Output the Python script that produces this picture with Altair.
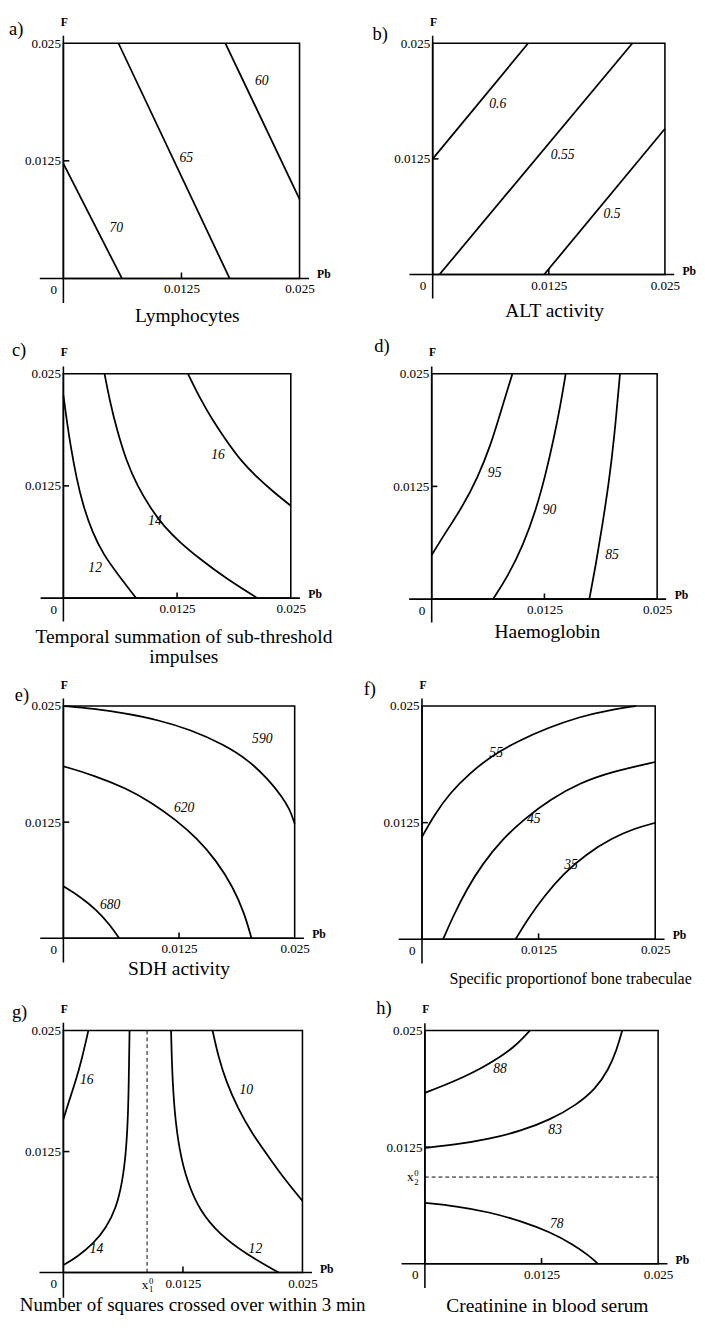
import altair as alt
import pandas as pd

FONT = "Liberation Serif"
DOM = [0, 0.025]

# ---------------- a) Lymphocytes ----------------
a_70_pb = [0.0, 0.0062]
a_70_f = [0.0122, 0.0]
a_65_pb = [0.00583, 0.0176]
a_65_f = [0.025, 0.0]
a_60_pb = [0.01715, 0.025]
a_60_f = [0.025, 0.00843]
a_lab_text = ["70", "65", "60"]
a_lab_pb = [0.0056, 0.0130, 0.0210]
a_lab_f = [0.0053, 0.0128, 0.0210]

# ---------------- b) ALT activity ----------------
b_06_pb = [0.0, 0.01028]
b_06_f = [0.0125, 0.025]
b_055_pb = [0.00073, 0.0215]
b_055_f = [0.0, 0.025]
b_05_pb = [0.012, 0.025]
b_05_f = [0.0, 0.01576]
b_lab_text = ["0.6", "0.55", "0.5"]
b_lab_pb = [0.0070, 0.0140, 0.0193]
b_lab_f = [0.01845, 0.0129, 0.0065]

# ---------------- c) Temporal summation ----------------
c_12_pb = [0.0, 0.000356, 0.000782, 0.00142, 0.0022, 0.0032, 0.00445, 0.00587, 0.008]
c_12_f = [0.02259, 0.01989, 0.01701, 0.01342, 0.01018, 0.0073, 0.00478, 0.00281, 0.0]
c_14_pb = [0.00452, 0.00516, 0.00587, 0.00693, 0.00818, 0.0096, 0.01102, 0.0128, 0.01494, 0.01778, 0.02134]
c_14_f = [0.025, 0.02169, 0.01881, 0.01522, 0.01241, 0.01, 0.00802, 0.00622, 0.00442, 0.00227, 0.0]
c_16_pb = [0.01369, 0.01494, 0.01636, 0.01778, 0.01956, 0.02134, 0.02312, 0.025]
c_16_f = [0.025, 0.02241, 0.01989, 0.01773, 0.01522, 0.01342, 0.0118, 0.01029]
c_lab_text = ["12", "14", "16"]
c_lab_pb = [0.00349, 0.01006, 0.0170]
c_lab_f = [0.00335, 0.00856, 0.01594]

# ---------------- d) Haemoglobin ----------------
d_95_pb = [0.0, 0.00154, 0.00333, 0.00512, 0.00655, 0.00763, 0.00895]
d_95_f = [0.00489, 0.0074, 0.01009, 0.01351, 0.0171, 0.02069, 0.025]
d_90_pb = [0.0068, 0.00835, 0.01014, 0.01157, 0.01264, 0.01354, 0.01426, 0.01486]
d_90_f = [0.0, 0.00237, 0.00596, 0.00991, 0.01386, 0.01782, 0.02141, 0.025]
d_85_pb = [0.01748, 0.0182, 0.01891, 0.01963, 0.02024, 0.02088]
d_85_f = [0.0, 0.00381, 0.00812, 0.01279, 0.01782, 0.025]
d_lab_text = ["95", "90", "85"]
d_lab_pb = [0.00698, 0.01307, 0.01999]
d_lab_f = [0.01394, 0.00991, 0.00488]

# ---------------- e) SDH activity ----------------
e_590_pb = [0.0, 0.00323, 0.00674, 0.01025, 0.01376, 0.01728, 0.02008, 0.02219, 0.0236, 0.02447, 0.025]
e_590_f = [0.025, 0.02472, 0.0242, 0.0235, 0.02245, 0.02088, 0.01913, 0.01704, 0.01529, 0.0139, 0.01233]
e_620_pb = [0.0, 0.00323, 0.00674, 0.00955, 0.01201, 0.01447, 0.01657, 0.01833, 0.01956, 0.02033]
e_620_f = [0.01851, 0.01756, 0.01617, 0.0146, 0.01285, 0.01075, 0.00831, 0.00552, 0.00272, 0.0]
e_680_pb = [0.0, 0.00183, 0.00358, 0.00499, 0.00604]
e_680_f = [0.00559, 0.00447, 0.00307, 0.0015, 0.0]
e_lab_text = ["590", "620", "680"]
e_lab_pb = [0.0215, 0.01306, 0.00506]
e_lab_f = [0.02147, 0.0140, 0.0036]

# ---------------- f) Bone trabeculae ----------------
f_55_pb = [0.0, 0.00128, 0.00302, 0.0051, 0.00753, 0.01031, 0.01344, 0.01691, 0.02003, 0.02292]
f_55_f = [0.01096, 0.01328, 0.01571, 0.01779, 0.0197, 0.02126, 0.02264, 0.02386, 0.02455, 0.025]
f_45_pb = [0.00226, 0.00337, 0.00476, 0.00649, 0.00858, 0.01101, 0.01378, 0.01691, 0.02038, 0.025]
f_45_f = [0.0, 0.00253, 0.00531, 0.00808, 0.01068, 0.01293, 0.01501, 0.01675, 0.01796, 0.019]
f_35_pb = [0.01003, 0.01135, 0.01309, 0.01517, 0.0176, 0.02038, 0.02281, 0.025]
f_35_f = [0.0, 0.00218, 0.00461, 0.00704, 0.00912, 0.01085, 0.01189, 0.01248]
f_lab_text = ["55", "45", "35"]
f_lab_pb = [0.00795, 0.01198, 0.01597]
f_lab_f = [0.01994, 0.01293, 0.0079]

# ---------------- g) Squares crossed ----------------
g_16_pb = [0.0, 0.00058, 0.00126, 0.00193, 0.00261]
g_16_f = [0.01585, 0.01769, 0.0197, 0.02205, 0.025]
g_14_pb = [0.0, 0.00142, 0.00312, 0.00448, 0.0055, 0.00617, 0.00658, 0.00678, 0.00685, 0.00692]
g_14_f = [0.00077, 0.00161, 0.00295, 0.00462, 0.00664, 0.00932, 0.01267, 0.01669, 0.02071, 0.025]
g_12_pb = [0.01126, 0.01136, 0.0116, 0.01211, 0.01296, 0.01431, 0.01635, 0.01906, 0.02252]
g_12_f = [0.025, 0.02105, 0.01669, 0.01267, 0.00932, 0.0063, 0.00395, 0.00194, 0.0]
g_10_pb = [0.0156, 0.01618, 0.01703, 0.01822, 0.01974, 0.02144, 0.02313, 0.025]
g_10_f = [0.025, 0.02239, 0.0197, 0.01702, 0.01434, 0.012, 0.00965, 0.00741]
g_lab_text = ["16", "14", "12", "10"]
g_lab_pb = [0.00244, 0.00346, 0.02008, 0.01913]
g_lab_f = [0.01987, 0.00245, 0.00245, 0.01887]
g_x10 = 0.00875

# ---------------- h) Creatinine ----------------
h_88_pb = [0.0, 0.00198, 0.00406, 0.00615, 0.00788, 0.00962, 0.01125]
h_88_f = [0.01833, 0.0191, 0.01997, 0.02101, 0.02205, 0.02326, 0.025]
h_83_pb = [0.0, 0.00337, 0.00684, 0.01031, 0.01344, 0.01622, 0.0183, 0.01969, 0.02056, 0.02115]
h_83_f = [0.01243, 0.01278, 0.01337, 0.01424, 0.01545, 0.01701, 0.01875, 0.02083, 0.02292, 0.025]
h_78_pb = [0.0, 0.00337, 0.00684, 0.01031, 0.01344, 0.01587, 0.0176, 0.01854]
h_78_f = [0.00653, 0.00618, 0.00556, 0.00458, 0.0034, 0.00208, 0.00087, 0.0]
h_lab_text = ["88", "83", "78"]
h_lab_pb = [0.00806, 0.01396, 0.01413]
h_lab_f = [0.0209, 0.0143, 0.00424]
h_x20 = 0.0093

TICKS = [0.0125, 0.025]


def X(field):
    return alt.X(field, type="quantitative",
                 scale=alt.Scale(domain=DOM, nice=False, zero=False),
                 axis=alt.Axis(values=TICKS, format=".4~f", domain=False, ticks=False, tickSize=0,
                               grid=False, labelFont=FONT, labelFontSize=13.5, labelColor="black",
                               labelPadding=4, labelFlush=False, labelOverlap=False, title=None))


def Y(field):
    return alt.Y(field, type="quantitative",
                 scale=alt.Scale(domain=DOM, nice=False, zero=False),
                 axis=alt.Axis(values=TICKS, format=".4~f", domain=False, ticks=False, tickSize=0,
                               grid=False, labelFont=FONT, labelFontSize=13.5, labelColor="black",
                               labelPadding=3, labelFlush=False, labelOverlap=False, title=None))


def note(pb, f, text, **kw):
    d = pd.DataFrame({"pb": [pb], "f": [f], "t": [text]})
    return alt.Chart(d).mark_text(font=FONT, color="black", **kw).encode(
        x=X("pb"), y=Y("f"), text="t:N")


def panel(letter, title, curves, lab_text, lab_pb, lab_f, w, h, lay, extra=()):
    rows = []
    for name, pbs, fs in curves:
        for i, (p, q) in enumerate(zip(pbs, fs)):
            rows.append({"curve": name, "i": i, "pb": p, "f": q})
    lines = alt.Chart(pd.DataFrame(rows)).mark_line(
        color="black", strokeWidth=1.8, interpolate="basis").encode(
        x=X("pb"), y=Y("f"), detail="curve:N", order="i:Q")
    labs = alt.Chart(pd.DataFrame({"pb": lab_pb, "f": lab_f, "t": lab_text})).mark_text(
        font=FONT, fontStyle="italic", fontSize=14, color="black").encode(
        x=X("pb"), y=Y("f"), text="t:N")
    ax = pd.DataFrame({
        "pb": [-0.0025, 0.0, 0.0125, 0.0],
        "pb2": [0.026, 0.0, 0.0125, 0.000625],
        "f": [0.0, -0.0026, 0.0, 0.0125],
        "f2": [0.0, 0.0258, 0.000625, 0.0125],
    })
    rules = alt.Chart(ax).mark_rule(color="black", strokeWidth=1.6).encode(
        x=X("pb"), x2="pb2", y=Y("f"), y2="f2")
    layers = [rules, lines, labs,
              note(0.0, 0.025, "F", dx=1, dy=-18, fontSize=12, fontWeight="bold",
                   align="center", baseline="alphabetic"),
              note(0.025, 0.0, "Pb", dx=18, dy=-4, fontSize=12, fontWeight="bold",
                   align="left", baseline="middle"),
              note(0.0, 0.0, "0", dx=-10, dy=12, fontSize=13.5, align="center",
                   baseline="middle"),
              note(0.0, 0.025, letter, dx=lay["ldx"], dy=lay["ldy"], fontSize=19,
                   align="left", baseline="middle"),
              note(0.0125, 0.0, title, dx=lay["tdx"], dy=lay["tdy"], fontSize=lay["tfs"],
                   align="center", baseline="alphabetic", lineBreak="\n", lineHeight=21)]
    layers += list(extra)
    return alt.layer(*layers).properties(width=w, height=h)


pa = panel("a)", "Lymphocytes",
           [("70", a_70_pb, a_70_f), ("65", a_65_pb, a_65_f), ("60", a_60_pb, a_60_f)],
           a_lab_text, a_lab_pb, a_lab_f, 243, 242,
           {"ldx": -56, "ldy": -15, "tdx": 6, "tdy": 45, "tfs": 20})
pb_ = panel("b)", "ALT activity",
            [("0.6", b_06_pb, b_06_f), ("0.55", b_055_pb, b_055_f), ("0.5", b_05_pb, b_05_f)],
            b_lab_text, b_lab_pb, b_lab_f, 239, 238,
            {"ldx": -62, "ldy": -9, "tdx": 6, "tdy": 44, "tfs": 20})
pc = panel("c)", "Temporal summation of sub-threshold\nimpulses",
           [("12", c_12_pb, c_12_f), ("14", c_14_pb, c_14_f), ("16", c_16_pb, c_16_f)],
           c_lab_text, c_lab_pb, c_lab_f, 234, 231,
           {"ldx": -53, "ldy": -24, "tdx": 7, "tdy": 46, "tfs": 20})
pd_ = panel("d)", "Haemoglobin",
            [("95", d_95_pb, d_95_f), ("90", d_90_pb, d_90_f), ("85", d_85_pb, d_85_f)],
            d_lab_text, d_lab_pb, d_lab_f, 232, 232,
            {"ldx": -59, "ldy": -28, "tdx": 3, "tdy": 40, "tfs": 20})
pe = panel("e)", "SDH activity",
           [("590", e_590_pb, e_590_f), ("620", e_620_pb, e_620_f), ("680", e_680_pb, e_680_f)],
           e_lab_text, e_lab_pb, e_lab_f, 238, 239,
           {"ldx": -50, "ldy": -11, "tdx": 0, "tdy": 38, "tfs": 20})
pf = panel("f)", "Specific proportionof bone trabeculae",
           [("55", f_55_pb, f_55_f), ("45", f_45_pb, f_45_f), ("35", f_35_pb, f_35_f)],
           f_lab_text, f_lab_pb, f_lab_f, 240, 240,
           {"ldx": -60, "ldy": -17, "tdx": 33, "tdy": 46, "tfs": 16.5})

g_extra = [
    alt.Chart(pd.DataFrame({"pb": [g_x10], "f": [0.0], "f2": [0.025]})).mark_rule(
        color="black", strokeWidth=1, strokeDash=[4, 3]).encode(x=X("pb"), y=Y("f"), y2="f2"),
    note(g_x10, 0.0, "x", dx=-2, dy=13, fontSize=13.5, align="center", baseline="middle"),
    note(g_x10, 0.0, "0", dx=2, dy=9, fontSize=9, align="left", baseline="middle"),
    note(g_x10, 0.0, "1", dx=2, dy=17, fontSize=9, align="left", baseline="middle"),
]
pg = panel("g)", "Number of squares crossed over within 3  min",
           [("16", g_16_pb, g_16_f), ("14", g_14_pb, g_14_f), ("12", g_12_pb, g_12_f),
            ("10", g_10_pb, g_10_f)],
           g_lab_text, g_lab_pb, g_lab_f, 246, 249,
           {"ldx": -53, "ldy": -19, "tdx": 10, "tdy": 40, "tfs": 19.5}, g_extra)

h_extra = [
    alt.Chart(pd.DataFrame({"pb": [0.0], "pb2": [0.025], "f": [h_x20]})).mark_rule(
        color="black", strokeWidth=1, strokeDash=[4, 3]).encode(x=X("pb"), x2="pb2", y=Y("f")),
    note(0.0, h_x20, "x", dx=-15, dy=0, fontSize=13.5, align="center", baseline="middle"),
    note(0.0, h_x20, "0", dx=-11, dy=-4, fontSize=9, align="left", baseline="middle"),
    note(0.0, h_x20, "2", dx=-11, dy=5, fontSize=9, align="left", baseline="middle"),
]
ph = panel("h)", "Creatinine in blood serum",
           [("88", h_88_pb, h_88_f), ("83", h_83_pb, h_83_f), ("78", h_78_pb, h_78_f)],
           h_lab_text, h_lab_pb, h_lab_f, 240, 240,
           {"ldx": -50, "ldy": -23, "tdx": 6, "tdy": 50, "tfs": 20}, h_extra)

row1 = alt.hconcat(pa, pb_, spacing=137, bounds="flush")
row2 = alt.hconcat(pc, pd_, spacing=145, bounds="flush")
row3 = alt.hconcat(pe, pf, spacing=131, bounds="flush")
row4 = alt.hconcat(pg, ph, spacing=126, bounds="flush")

chart = alt.vconcat(row1, row2, row3, row4, spacing=10, bounds="full").properties(
    padding={"left": 0, "top": -12, "right": 0, "bottom": 0}
).configure_view(stroke="black", strokeWidth=1.6)

chart.save("out.html", embed_options={"renderer": "svg", "actions": False})
